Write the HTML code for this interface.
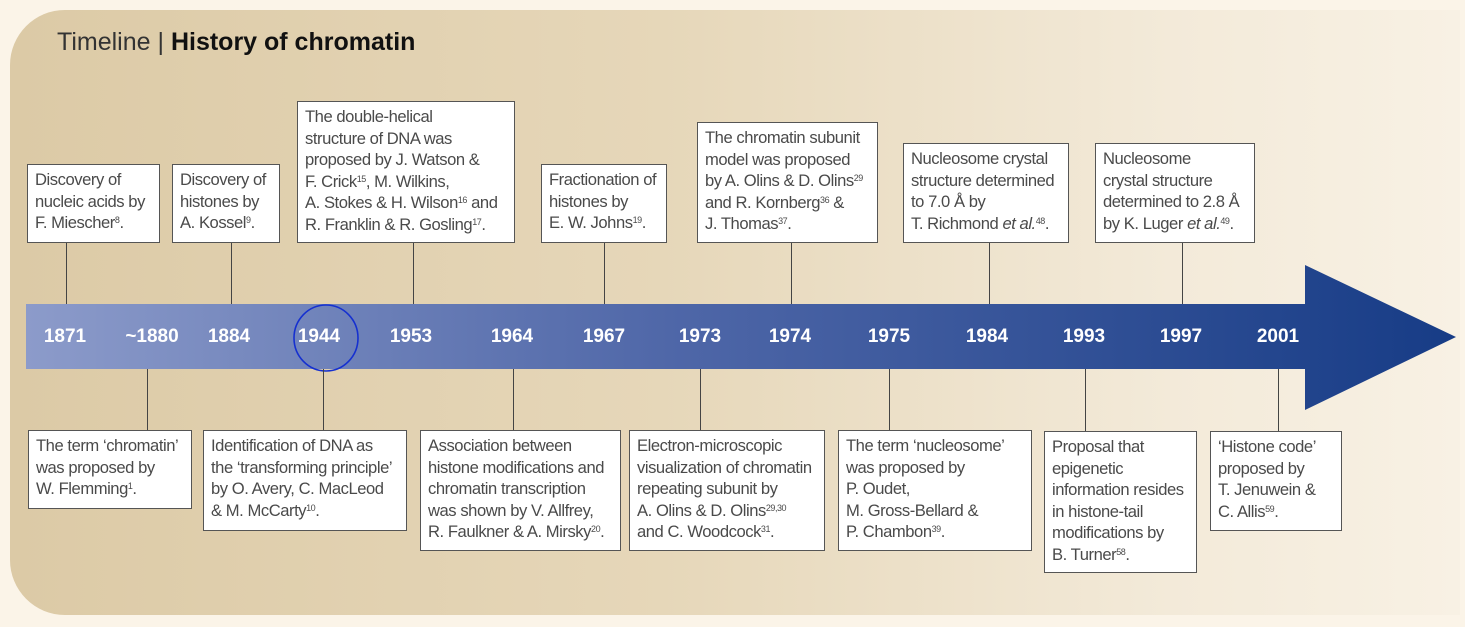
<!DOCTYPE html>
<html><head><meta charset="utf-8"><style>
body{margin:0;width:1465px;height:627px;background:#fbf4e8;position:relative;overflow:hidden;font-family:"Liberation Sans",sans-serif;}
.panel{position:absolute;left:10px;top:10px;width:1450px;height:605px;border-radius:55px 0 0 55px;background:linear-gradient(90deg,#dccaa6 0%,#e6d7b9 45%,#f3ead9 80%,#f8f1e4 100%);}
.box{position:absolute;background:#fff;border:1.3px solid #555;box-sizing:border-box;padding:4px 7px;font-size:16.6px;line-height:21.5px;color:#4a4a4a;letter-spacing:-0.45px;white-space:nowrap;overflow:hidden;}
sup{font-size:9px;vertical-align:5px;line-height:0}
.v{position:absolute;width:1.3px;background:#444;}
.y{position:absolute;top:326px;font-weight:bold;color:#fff;font-size:19px;transform:translateX(-50%);}
.title{position:absolute;left:57px;top:28px;font-size:25px;color:#333;}
</style></head><body>
<div class="panel"></div>
<div class="title">Timeline | <b style="color:#111">History of chromatin</b></div>
<svg width="1465" height="627" style="position:absolute;left:0;top:0">
<defs><linearGradient id="g" x1="26" x2="1455" y1="0" y2="0" gradientUnits="userSpaceOnUse"><stop offset="0" stop-color="#8c9bca"/><stop offset="0.45" stop-color="#4f67a8"/><stop offset="1" stop-color="#173c86"/></linearGradient></defs>
<polygon points="26,304 1305,304 1305,265 1456,337 1305,410 1305,369 26,369" fill="url(#g)"/>
<ellipse cx="326" cy="338" rx="32" ry="33" fill="none" stroke="#1530d0" stroke-width="1.6"/>
</svg>
<div class="y" style="left:65px">1871</div><div class="y" style="left:152px">~1880</div><div class="y" style="left:229px">1884</div><div class="y" style="left:319px">1944</div><div class="y" style="left:411px">1953</div><div class="y" style="left:512px">1964</div><div class="y" style="left:604px">1967</div><div class="y" style="left:700px">1973</div><div class="y" style="left:790px">1974</div><div class="y" style="left:889px">1975</div><div class="y" style="left:987px">1984</div><div class="y" style="left:1084px">1993</div><div class="y" style="left:1181px">1997</div><div class="y" style="left:1278px">2001</div>

<div class="v" style="left:66px;top:242px;height:62px"></div>
<div class="v" style="left:231px;top:242px;height:62px"></div>
<div class="v" style="left:413px;top:242px;height:62px"></div>
<div class="v" style="left:604px;top:242px;height:62px"></div>
<div class="v" style="left:791px;top:242px;height:62px"></div>
<div class="v" style="left:989px;top:242px;height:62px"></div>
<div class="v" style="left:1182px;top:242px;height:62px"></div>
<div class="v" style="left:147px;top:369px;height:62px"></div>
<div class="v" style="left:323px;top:369px;height:62px"></div>
<div class="v" style="left:513px;top:369px;height:62px"></div>
<div class="v" style="left:700px;top:369px;height:62px"></div>
<div class="v" style="left:889px;top:369px;height:62px"></div>
<div class="v" style="left:1085px;top:369px;height:62px"></div>
<div class="v" style="left:1278px;top:369px;height:62px"></div>

<div class="box" style="left:27px;top:164px;width:133px;height:79px">Discovery of<br>nucleic acids by<br>F. Miescher<sup>8</sup>.</div>
<div class="box" style="left:172px;top:164px;width:108px;height:79px">Discovery of<br>histones by<br>A. Kossel<sup>9</sup>.</div>
<div class="box" style="left:297px;top:101px;width:218px;height:142px">The double-helical<br>structure of DNA was<br>proposed by J. Watson &amp;<br>F. Crick<sup>15</sup>, M. Wilkins,<br>A. Stokes &amp; H. Wilson<sup>16</sup> and<br>R. Franklin &amp; R. Gosling<sup>17</sup>.</div>
<div class="box" style="left:541px;top:164px;width:126px;height:79px">Fractionation of<br>histones by<br>E. W. Johns<sup>19</sup>.</div>
<div class="box" style="left:697px;top:122px;width:181px;height:121px">The chromatin subunit<br>model was proposed<br>by A. Olins &amp; D. Olins<sup>29</sup><br>and R. Kornberg<sup>36</sup> &amp;<br>J. Thomas<sup>37</sup>.</div>
<div class="box" style="left:903px;top:143px;width:166px;height:100px">Nucleosome crystal<br>structure determined<br>to 7.0 Å by<br>T. Richmond <i>et al.</i><sup>48</sup>.</div>
<div class="box" style="left:1095px;top:143px;width:160px;height:100px">Nucleosome<br>crystal structure<br>determined to 2.8 Å<br>by K. Luger <i>et al.</i><sup>49</sup>.</div>

<div class="box" style="left:28px;top:430px;width:164px;height:79px">The term ‘chromatin’<br>was proposed by<br>W. Flemming<sup>1</sup>.</div>
<div class="box" style="left:203px;top:430px;width:204px;height:101px">Identification of DNA as<br>the ‘transforming principle’<br>by O. Avery, C. MacLeod<br>&amp; M. McCarty<sup>10</sup>.</div>
<div class="box" style="left:420px;top:430px;width:201px;height:121px">Association between<br>histone modifications and<br>chromatin transcription<br>was shown by V. Allfrey,<br>R. Faulkner &amp; A. Mirsky<sup>20</sup>.</div>
<div class="box" style="left:629px;top:430px;width:196px;height:121px">Electron-microscopic<br>visualization of chromatin<br>repeating subunit by<br>A. Olins &amp; D. Olins<sup>29,30</sup><br>and C. Woodcock<sup>31</sup>.</div>
<div class="box" style="left:838px;top:430px;width:194px;height:121px">The term ‘nucleosome’<br>was proposed by<br>P. Oudet,<br>M. Gross-Bellard &amp;<br>P. Chambon<sup>39</sup>.</div>
<div class="box" style="left:1044px;top:431px;width:153px;height:142px">Proposal that<br>epigenetic<br>information resides<br>in histone-tail<br>modifications by<br>B. Turner<sup>58</sup>.</div>
<div class="box" style="left:1210px;top:431px;width:132px;height:100px">‘Histone code’<br>proposed by<br>T. Jenuwein &amp;<br>C. Allis<sup>59</sup>.</div>
</body></html>
